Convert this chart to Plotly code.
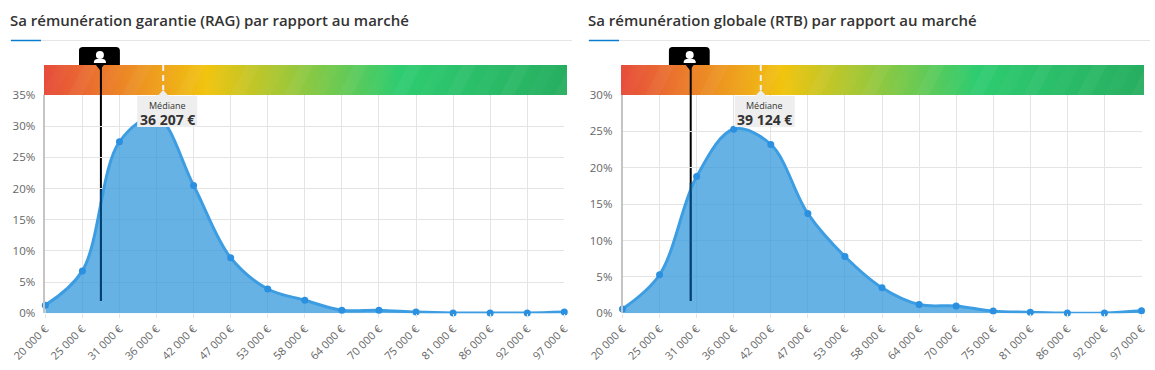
import base64
import plotly.graph_objects as go

W, H = 1155, 370
salaries = ["20 000 €", "25 000 €", "31 000 €", "36 000 €", "42 000 €", "47 000 €", "53 000 €", "58 000 €",
            "64 000 €", "70 000 €", "75 000 €", "81 000 €", "86 000 €", "92 000 €", "97 000 €"]
rag_values = [1.3, 6.8, 27.5, 31.5, 20.5, 8.9, 3.9, 2.1, 0.5, 0.5, 0.2, 0.05, 0.05, 0.05, 0.2]
rtb_values = [0.6, 5.3, 18.8, 25.3, 23.2, 13.7, 7.8, 3.5, 1.2, 1.0, 0.3, 0.15, 0.03, 0.03, 0.35]
rag_ticks = [0, 5, 10, 15, 20, 25, 30, 35]
rtb_ticks = [0, 5, 10, 15, 20, 25, 30]
titles = ["Sa rémunération garantie (RAG) par rapport au marché",
          "Sa rémunération globale (RTB) par rapport au marché"]
medians = ["36 207 €", "39 124 €"]
median_label = "Médiane"
median_pos = [3.18, 3.73]
person_pos = [1.5, 1.84]
person_curve = [19.8, 17.9]

TEXT = "#333333"
GRID = "#e4e4e4"
LINE = "#3d9de2"
FILL = "rgba(52,152,219,0.75)"
FONT = "Open Sans, Noto Sans, sans-serif"


def px(x):
    return x / W


def py(y):
    return 1 - y / H


def uri(svg):
    return "data:image/svg+xml;base64," + base64.b64encode(svg.encode()).decode()


def bar_svg(w=523, h=30):
    polys = ""
    x = -30
    i = 0
    while x < w + 30:
        op = 0.045 if i % 2 == 0 else 0.02
        polys += f'<polygon points="{x},{h} {x+16},0 {x+30},0 {x+14},{h}" fill="#fff" fill-opacity="{op}"/>'
        x += 27
        i += 1
    return (f'<svg xmlns="http://www.w3.org/2000/svg" width="{w}" height="{h}" viewBox="0 0 {w} {h}">'
            '<defs><linearGradient id="g"><stop offset="0" stop-color="#e74c3c"/>'
            '<stop offset="0.31" stop-color="#f1c40f"/><stop offset="0.68" stop-color="#2ecc71"/>'
            '<stop offset="1" stop-color="#27ae60"/></linearGradient></defs>'
            f'<rect width="{w}" height="{h}" fill="url(#g)"/>{polys}</svg>')


def tag_svg():
    return ('<svg xmlns="http://www.w3.org/2000/svg" width="42" height="24" viewBox="0 0 42 24">'
            '<path d="M4 0H37a4 4 0 0 1 4 4V18H25L21 23L17 18H0V4a4 4 0 0 1 4-4z" fill="#000"/>'
            '<circle cx="21" cy="8" r="4" fill="#fff"/>'
            '<path d="M15 16v-1.5a3 3 0 0 1 3-2.5h6a3 3 0 0 1 3 2.5V16z" fill="#fff"/></svg>')


panels = [
    dict(vals=rag_values, ticks=rag_ticks, ymax=35, x0=45.3, x1=564.3, bar=44, tx=10, te=572),
    dict(vals=rtb_values, ticks=rtb_ticks, ymax=30, x0=622.5, x1=1141.5, bar=621, tx=588, te=1150),
]

fig = go.Figure()
shapes, annots, images = [], [], []
TOP, BOTTOM = 95, 313.3

for i, p in enumerate(panels):
    n = "" if i == 0 else "2"
    fig.update_layout({
        f"xaxis{n}": dict(domain=[px(p["x0"]), px(p["x1"])], range=[0, 14], tickmode="array", automargin=False,
                          tickvals=list(range(15)), ticktext=salaries, tickangle=-45,
                          tickfont=dict(family=FONT, size=11, color="#666666"), showgrid=True,
                          gridcolor=GRID, gridwidth=1, zeroline=False, showline=False,
                          ticks="outside", ticklen=4, tickcolor=GRID, anchor=f"y{n}", fixedrange=True),
        f"yaxis{n}": dict(domain=[py(BOTTOM), py(TOP)], range=[0, p["ymax"]], tickmode="array", automargin=False,
                          tickvals=p["ticks"], ticktext=[f"{t}%" for t in p["ticks"]],
                          tickfont=dict(family=FONT, size=11.5, color="#666666"), showgrid=True,
                          gridcolor=GRID, gridwidth=1, zeroline=False, showline=True, linecolor="#c4c4c4",
                          linewidth=1.5, ticks="", ticklabelstandoff=6, anchor=f"x{n}", fixedrange=True),
    })
    fig.add_trace(go.Scatter(x=list(range(15)), y=p["vals"], xaxis=f"x{n}", yaxis=f"y{n}", mode="lines+markers",
                             line=dict(color=LINE, width=3, shape="spline", smoothing=1.0),
                             marker=dict(color="#2b90e0", size=7), fill="tozeroy", fillcolor=FILL,
                             cliponaxis=False, showlegend=False, hoverinfo="skip"))
    step = (p["x1"] - p["x0"]) / 14
    mx = p["x0"] + median_pos[i] * step
    ux = p["x0"] + person_pos[i] * step
    # header
    annots.append(dict(xref="paper", yref="paper", x=px(p["tx"] - 2), y=py(20), xanchor="left", yanchor="middle",
                       text=titles[i], showarrow=False,
                       font=dict(family=FONT, size=15, color=TEXT, weight=600)))
    shapes.append(dict(type="line", xref="paper", yref="paper", x0=px(p["tx"]), x1=px(p["te"]), y0=py(40.5), y1=py(40.5),
                       line=dict(color="#e6e6e6", width=1), layer="below"))
    shapes.append(dict(type="line", xref="paper", yref="paper", x0=px(p["tx"] + 1), x1=px(p["tx"] + 31), y0=py(40.5),
                       y1=py(40.5), line=dict(color="#0a7cd0", width=1.5), layer="above"))
    # scale bar
    images.append(dict(source=uri(bar_svg()), xref="paper", yref="paper", x=px(p["bar"]), y=py(65),
                       sizex=px(523), sizey=30 / H, xanchor="left", yanchor="top", sizing="stretch", layer="below"))
    # person marker line: black above the curve, dark navy where it crosses the filled area
    shapes.append(dict(type="line", xref="paper", yref="paper", x0=px(ux), x1=px(ux), y0=py(65), y1=py(301),
                       line=dict(color="#000", width=2), layer="below"))
    shapes.append(dict(type="line", xref=f"x{n}", yref=f"y{n}", x0=person_pos[i], x1=person_pos[i],
                       y0=person_curve[i], y1=(BOTTOM - 301) / (BOTTOM - TOP) * p["ymax"],
                       line=dict(color="#003f6e", width=2), layer="above"))
    images.append(dict(source=uri(tag_svg()), xref="paper", yref="paper", x=px(ux - 22), y=py(47),
                       sizex=px(42), sizey=24 / H, xanchor="left", yanchor="top", sizing="stretch", layer="above"))
    # median marker
    shapes.append(dict(type="line", xref="paper", yref="paper", x0=px(mx), x1=px(mx), y0=py(65), y1=py(90),
                       line=dict(color="#f2f2f2", width=2, dash="6px,4px"), layer="above"))
    shapes.append(dict(type="path", xref="paper", yref="paper", layer="above", line=dict(width=0), fillcolor="#eeeeee",
                       path=f"M{px(mx-6)},{py(96.5)} L{px(mx)},{py(90)} L{px(mx+6)},{py(96.5)} Z"))
    shapes.append(dict(type="rect", xref="paper", yref="paper", layer="above", line=dict(width=0), fillcolor="#eeeeee",
                       x0=px(mx - 26), x1=px(mx + 34), y0=py(96), y1=py(127)))
    annots.append(dict(xref="paper", yref="paper", x=px(mx + 4), y=py(105), text=median_label, showarrow=False,
                       xanchor="center", yanchor="middle", font=dict(family=FONT, size=9, color=TEXT)))
    annots.append(dict(xref="paper", yref="paper", x=px(mx + 4), y=py(119), text=medians[i], showarrow=False,
                       xanchor="center", yanchor="middle",
                       font=dict(family=FONT, size=14, color=TEXT, weight=700)))

fig.update_layout(width=W, height=H, autosize=False, margin=dict(l=0, r=0, t=0, b=0),
                  paper_bgcolor="#fff", plot_bgcolor="rgba(0,0,0,0)", shapes=shapes, annotations=annots,
                  images=images, showlegend=False)
fig.write_html("out.html", config=dict(displayModeBar=False),
               post_script="document.body.style.margin='0';document.body.style.overflow='hidden';")
